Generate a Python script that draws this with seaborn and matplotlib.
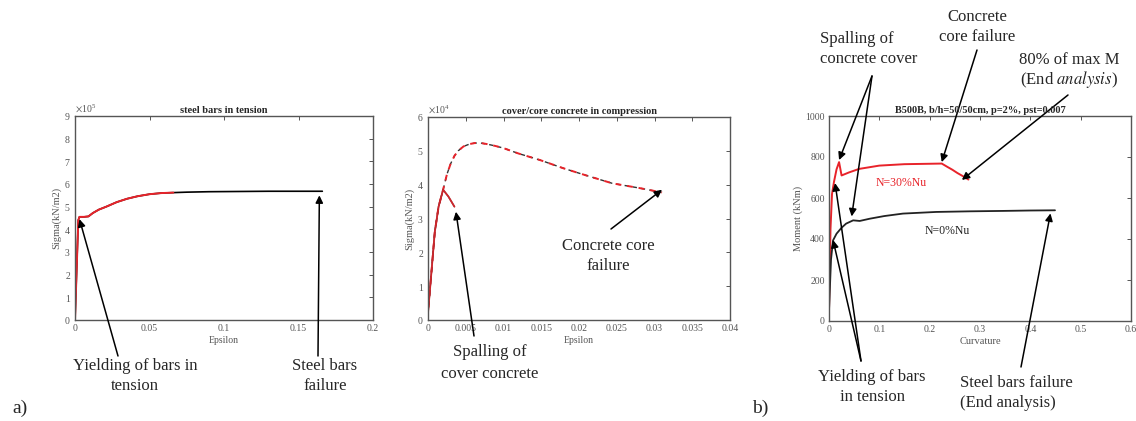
import numpy as np
import pandas as pd
import matplotlib
matplotlib.use("Agg")
import matplotlib.pyplot as plt
import seaborn as sns

# ---------------- data ----------------
# (a) steel bars in tension
steel_eps = [0, 0.0022, 0.003, 0.006, 0.009, 0.012, 0.016, 0.021, 0.028, 0.035, 0.042,
             0.050, 0.058, 0.066, 0.075, 0.09, 0.11, 0.13, 0.15, 0.166]
steel_sig = [0, 4.4e5, 4.55e5, 4.55e5, 4.57e5, 4.72e5, 4.87e5, 5.0e5, 5.2e5, 5.35e5, 5.46e5,
             5.55e5, 5.6e5, 5.62e5, 5.64e5, 5.66e5, 5.67e5, 5.68e5, 5.68e5, 5.68e5]
steel_red_end = 0.07

# (a) concrete in compression
core_eps = [0, 0.0003, 0.0006, 0.0009, 0.0014, 0.002, 0.0025, 0.003, 0.0035, 0.004, 0.0047,
            0.0055, 0.0062, 0.0070, 0.0078, 0.009, 0.010, 0.012, 0.0148, 0.018, 0.021,
            0.0244, 0.028, 0.031]
core_sig = [0.2e4, 1.0e4, 1.8e4, 2.6e4, 3.35e4, 3.85e4, 4.3e4, 4.62e4, 4.85e4, 5.0e4, 5.13e4,
            5.2e4, 5.23e4, 5.23e4, 5.2e4, 5.14e4, 5.08e4, 4.92e4, 4.73e4, 4.48e4, 4.27e4,
            4.04e4, 3.9e4, 3.77e4]
cover_eps = [0, 0.0003, 0.0006, 0.0009, 0.0014, 0.002, 0.0027, 0.0035]
cover_sig = [0.2e4, 1.0e4, 1.8e4, 2.6e4, 3.35e4, 3.85e4, 3.65e4, 3.35e4]

# (b) moment - curvature
n30_curv = [0, 0.003, 0.006, 0.01, 0.015, 0.02, 0.025, 0.04, 0.06, 0.1, 0.15, 0.2, 0.224,
            0.235, 0.245, 0.255, 0.265, 0.277]
n30_mom = [50, 450, 620, 680, 740, 775, 710, 725, 742, 758, 765, 767, 768,
           752, 738, 722, 708, 690]
n0_curv = [0, 0.004, 0.008, 0.015, 0.025, 0.034, 0.048, 0.061, 0.081, 0.11, 0.147, 0.213,
           0.28, 0.346, 0.4, 0.449]
n0_mom = [50, 300, 393, 426, 455, 475, 491, 488, 499, 512, 524, 532, 535, 537, 539, 540]

# ---------------- style ----------------
sns.set_theme(style="white")
plt.rcParams["font.family"] = ["Liberation Serif", "DejaVu Serif"]
plt.rcParams["mathtext.fontset"] = "stix"

RED = "#e8232a"
GRAY = "#555555"

fig = plt.figure(figsize=(11.36, 4.21), dpi=100)
W, H = 1136, 421


def px_axes(l, t, r, b):
    return fig.add_axes([l / W, 1 - b / H, (r - l) / W, (b - t) / H])


def style_axes(ax):
    for s in ax.spines.values():
        s.set_color(GRAY)
        s.set_linewidth(1.0)
    ax.tick_params(direction="in", top=True, right=True, length=3, width=0.7,
                   labelsize=7, colors=GRAY, labelcolor=GRAY, pad=3)
    ax.xaxis.label.set_color(GRAY)
    ax.yaxis.label.set_color(GRAY)


def fpx(x, y):
    return (x / W, 1 - y / H)


arrow = dict(arrowstyle="-|>", color="black", lw=1.1, mutation_scale=11,
             shrinkA=0, shrinkB=0)
ANN = 12


def txt(x, y, s, ha="center", **kw):
    fig.text(*fpx(x, y), s, fontsize=kw.pop("fontsize", ANN), ha=ha, va="center", **kw)


def arr(ax, tip, start):
    ax.annotate("", xy=tip, xycoords="data", xytext=fpx(*start),
                textcoords="figure fraction", arrowprops=arrow, annotation_clip=False)


# ---------- panel 1 ----------
ax1 = px_axes(75, 116, 373, 320)
df_s = pd.DataFrame({"eps": steel_eps, "sig": steel_sig})
sns.lineplot(data=df_s, x="eps", y="sig", ax=ax1, color="black", lw=1.2)
sns.lineplot(data=df_s[df_s["eps"] <= steel_red_end], x="eps", y="sig", ax=ax1,
             color=RED, lw=1.4)
ax1.set_xlim(0, 0.2)
ax1.set_ylim(0, 9e5)
ax1.set_xticks(np.arange(0, 0.2001, 0.05))
ax1.set_xticklabels(["0", "0.05", "0.1", "0.15", "0.2"])
ax1.set_yticks(np.arange(0, 9.01e5, 1e5))
ax1.ticklabel_format(style="sci", axis="y", scilimits=(0, 0), useMathText=True)
ax1.yaxis.get_offset_text().set_fontsize(7)
ax1.yaxis.get_offset_text().set_color(GRAY)
ax1.set_xlabel("Epsilon", fontsize=7, labelpad=2)
ax1.set_ylabel("Sigma(kN/m2)", fontsize=7.5, labelpad=2)
ax1.set_title("steel bars in tension", fontsize=7.5, fontweight="bold", pad=2)
style_axes(ax1)

txt(135, 366, "Yielding of bars in")
txt(135, 386, "tension")
arr(ax1, (0.003, 4.45e5), (118, 356))
txt(325, 366, "Steel bars")
txt(325, 386, "failure")
arr(ax1, (0.164, 5.5e5), (318, 356))
txt(12, 408, "a)", ha="left", fontsize=14)

# ---------- panel 2 ----------
ax2 = px_axes(428, 117, 730, 320)
df_core = pd.DataFrame({"eps": core_eps, "sig": core_sig})
df_cov = pd.DataFrame({"eps": cover_eps, "sig": cover_sig})
sns.lineplot(data=df_core, x="eps", y="sig", ax=ax2, color="#333333", lw=1.0,
             linestyle=(0, (3, 3)))
sns.lineplot(data=df_core, x="eps", y="sig", ax=ax2, color=RED, lw=1.4,
             linestyle=(3, (3, 3)))
sns.lineplot(data=df_cov, x="eps", y="sig", ax=ax2, color="#333333", lw=1.1)
sns.lineplot(data=df_cov, x="eps", y="sig", ax=ax2, color=RED, lw=1.3, alpha=0.85)
ax2.set_xlim(0, 0.04)
ax2.set_ylim(0, 6e4)
ax2.set_xticks(np.arange(0, 0.04001, 0.005))
ax2.set_xticklabels(["0", "0.005", "0.01", "0.015", "0.02", "0.025", "0.03", "0.035", "0.04"])
ax2.set_yticks(np.arange(0, 6.01e4, 1e4))
ax2.ticklabel_format(style="sci", axis="y", scilimits=(0, 0), useMathText=True)
ax2.yaxis.get_offset_text().set_fontsize(7)
ax2.yaxis.get_offset_text().set_color(GRAY)
ax2.set_xlabel("Epsilon", fontsize=7, labelpad=2)
ax2.set_ylabel("Sigma(kN/m2)", fontsize=7.5, labelpad=2)
ax2.set_title("cover/core concrete in compression", fontsize=7.5, fontweight="bold", pad=2)
style_axes(ax2)

txt(608, 246, "Concrete core")
txt(608, 266, "failure")
arr(ax2, (0.031, 3.85e4), (611, 229))
txt(490, 352, "Spalling of")
txt(490, 374, "cover concrete")
arr(ax2, (0.0037, 3.2e4), (474, 336))

# ---------- panel 3 ----------
ax3 = px_axes(829, 116, 1131, 321)
df30 = pd.DataFrame({"curv": n30_curv, "mom": n30_mom})
df0 = pd.DataFrame({"curv": n0_curv, "mom": n0_mom})
sns.lineplot(data=df30, x="curv", y="mom", ax=ax3, color=RED, lw=1.4)
sns.lineplot(data=df0, x="curv", y="mom", ax=ax3, color="#222222", lw=1.3)
ax3.set_xlim(0, 0.6)
ax3.set_ylim(0, 1000)
ax3.set_xticks(np.arange(0, 0.601, 0.1))
ax3.set_xticklabels(["0", "0.1", "0.2", "0.3", "0.4", "0.5", "0.6"])
ax3.set_yticks(np.arange(0, 1001, 200))
ax3.set_xlabel("Curvature", fontsize=7.5, labelpad=2)
ax3.set_ylabel("Moment (kNm)", fontsize=7.5, labelpad=2)
ax3.set_title("B500B, b/h=50/50cm, p=2%, pst=0.007", fontsize=7.5, fontweight="bold", pad=2)
style_axes(ax3)

ax3.text(0.143, 673, "N=30%Nu", color=RED, fontsize=8.5, ha="center", va="center")
ax3.text(0.235, 437, "N=0%Nu", color="#222222", fontsize=8.5, ha="center", va="center")

txt(820, 39, "Spalling of", ha="left")
txt(820, 59, "concrete cover", ha="left")
arr(ax3, (0.02, 785), (872, 76))
arr(ax3, (0.045, 510), (872, 76))

txt(977, 17, "Concrete")
txt(977, 37, "core failure")
arr(ax3, (0.224, 775), (977, 50))

txt(1019, 60, "80% of max M", ha="left")
txt(1020, 80, r"(End $\mathit{analysis}$)", ha="left")
arr(ax3, (0.264, 688), (1068, 95))

txt(872, 377, "Yielding of bars")
txt(872, 397, "in tension")
arr(ax3, (0.012, 673), (861, 361))
arr(ax3, (0.008, 395), (861, 361))

txt(960, 383, "Steel bars failure", ha="left")
txt(960, 403, "(End analysis)", ha="left")
arr(ax3, (0.44, 525), (1021, 367))

txt(752, 408, "b)", ha="left", fontsize=14)

fig.savefig("out.png", dpi=100)
